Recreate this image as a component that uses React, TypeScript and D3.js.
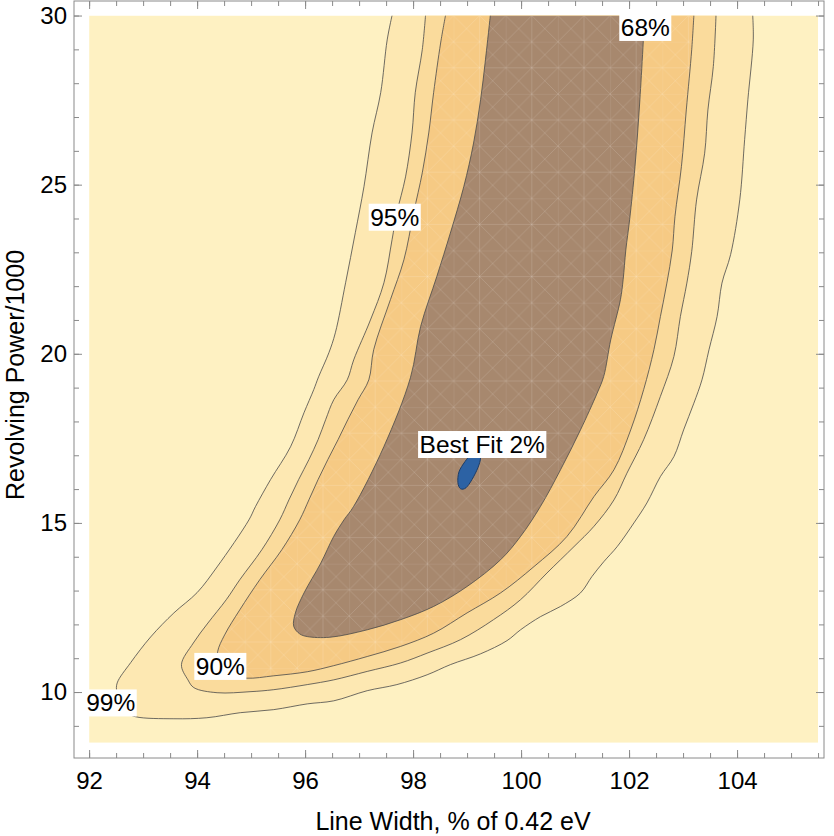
import React, { useEffect, useRef } from 'react'

import * as d3 from 'd3'

type Pt = [number, number]

// confidence contours in (line width %, revolving power / 1000), traced
// from the top edge down the left flank, round the bottom and up the right
const contour99: Pt[] = [
  [97.61, 30.0], [97.52, 29.28], [97.4, 27.72], [97.24, 26.53], [97.09, 24.94],
  [96.93, 23.58], [96.75, 22.1], [96.56, 20.62], [96.44, 20.03], [96.25, 19.32],
  [96.16, 18.94], [95.98, 18.26], [95.73, 17.25], [95.36, 16.28], [95.08, 15.48],
  [94.96, 15.09], [94.37, 13.7], [94.0, 12.94], [93.57, 12.34], [93.14, 11.63],
  [92.77, 10.87], [92.52, 10.27], [92.51, 10.01], [92.57, 9.62], [92.7, 9.39],
  [92.86, 9.27], [93.57, 9.21], [94.18, 9.24], [94.8, 9.39], [95.42, 9.48],
  [96.04, 9.65], [96.53, 9.74], [97.15, 10.04], [97.7, 10.22], [98.26, 10.51],
  [98.69, 10.81], [99.25, 11.13], [99.74, 11.52], [99.99, 11.84], [100.36, 12.23],
  [100.73, 12.53], [101.1, 12.93], [101.31, 13.41], [101.53, 13.85], [101.78, 14.3],
  [102.09, 15.0], [102.33, 15.59], [102.58, 16.37], [102.83, 16.96], [103.01, 17.75],
  [103.2, 18.54], [103.35, 19.23], [103.48, 20.12], [103.63, 21.1], [103.72, 22.09],
  [103.88, 22.93], [104.05, 24.55], [104.14, 26.33], [104.2, 27.51], [104.3, 29.28],
  [104.29, 30.0],
]

const contour95: Pt[] = [
  [98.23, 30.0], [98.17, 28.99], [98.04, 27.72], [97.98, 26.53], [97.86, 25.23],
  [97.7, 24.17], [97.61, 23.37], [97.46, 22.1], [97.21, 21.0], [96.9, 19.82],
  [96.78, 19.23], [96.53, 18.64], [96.38, 18.05], [96.24, 17.46], [96.07, 16.87],
  [95.88, 16.28], [95.7, 15.68], [95.53, 15.09], [95.2, 14.21], [94.79, 13.32],
  [94.54, 12.73], [94.2, 12.04], [93.93, 11.45], [93.71, 10.81], [93.83, 10.36],
  [93.94, 10.13], [94.37, 9.98], [94.98, 10.01], [95.42, 10.07], [96.04, 10.22],
  [96.53, 10.36], [97.15, 10.61], [97.77, 10.86], [98.26, 11.15], [98.88, 11.55],
  [99.49, 12.14], [99.99, 12.73], [100.48, 13.52], [100.98, 14.3], [101.35, 14.9],
  [101.72, 15.68], [101.96, 16.47], [102.27, 17.46], [102.58, 18.74], [102.83, 19.92],
  [102.95, 21.1], [103.07, 22.09], [103.16, 23.02], [103.25, 24.55], [103.4, 25.93],
  [103.46, 27.21], [103.56, 28.49], [103.61, 30.0],
]

const contour90: Pt[] = [
  [98.6, 30.0], [98.51, 29.19], [98.38, 27.72], [98.29, 26.53], [98.17, 25.35],
  [98.01, 24.17], [97.83, 22.78], [97.58, 21.6], [97.27, 20.12], [97.18, 19.23],
  [96.98, 18.64], [96.79, 18.05], [96.61, 17.46], [96.42, 16.87], [96.24, 16.28],
  [96.07, 15.68], [95.9, 15.09], [95.57, 14.21], [95.16, 13.32], [94.79, 12.43],
  [94.51, 11.69], [94.38, 11.19], [94.4, 10.81], [94.53, 10.54], [94.91, 10.41],
  [95.42, 10.48], [96.04, 10.6], [96.53, 10.78], [97.15, 11.05], [97.77, 11.35],
  [98.38, 11.74], [99.0, 12.34], [99.62, 12.93], [100.24, 13.71], [100.85, 14.6],
  [101.35, 15.78], [101.72, 16.57], [102.03, 17.75], [102.27, 18.94], [102.46, 20.12],
  [102.58, 21.1], [102.7, 22.09], [102.8, 23.07], [102.85, 24.06], [102.97, 25.54],
  [103.06, 27.21], [103.16, 28.99], [103.2, 30.0],
]

const contour68: Pt[] = [
  [99.43, 30.0], [99.34, 28.69], [99.25, 27.51], [99.12, 26.23], [98.94, 24.95],
  [98.69, 23.57], [98.44, 22.29], [98.14, 20.81], [97.95, 19.29], [97.46, 17.26],
  [96.9, 15.49], [96.72, 15.09], [96.53, 14.6], [96.29, 13.81], [95.98, 12.93],
  [95.82, 12.34], [95.79, 11.94], [95.9, 11.72], [96.04, 11.64], [96.46, 11.62],
  [97.15, 11.84], [97.77, 12.14], [98.38, 12.53], [99.0, 13.12], [99.62, 13.91],
  [99.99, 14.6], [100.36, 15.49], [100.73, 16.57], [101.1, 17.75], [101.41, 18.84],
  [101.53, 19.33], [101.66, 20.41], [101.84, 21.6], [101.89, 22.19], [101.94, 23.07],
  [102.01, 23.96], [102.11, 25.54], [102.2, 27.51], [102.29, 30.0],
]

const bestFit: Pt[] = [
  [99.2, 17.1], [99.25, 16.93], [99.2, 16.63], [99.09, 16.28], [98.98, 16.04],
  [98.88, 16.01], [98.83, 16.19], [98.85, 16.51], [98.96, 16.81], [99.07, 17.01],
]

const levelLabels = [
  { text: '68%', x: 102.3, y: 29.65 },
  { text: '95%', x: 97.66, y: 24.04 },
  { text: '90%', x: 94.43, y: 10.76 },
  { text: '99%', x: 92.4, y: 9.68 },
  { text: 'Best Fit 2%', x: 99.28, y: 17.32 },
]

const xTicks = [92, 94, 96, 98, 100, 102, 104]
const yTicks = [10, 15, 20, 25, 30]
const xMinorTicks = d3.range(92, 105.6, 0.5)
const yMinorTicks = d3.range(9, 31, 1)

const bands = [
  { points: contour99, fill: '#fde8b2' },
  { points: contour95, fill: '#fadb9c' },
  { points: contour90, fill: '#f6ca84' },
  { points: contour68, fill: '#a7886e' },
]

const FONT = "'Liberation Sans', Arial, sans-serif"

const ContourChart = () => {
  const svgRef = useRef(null)

  useEffect(() => {
    if (!svgRef.current) return
    const svg = d3.select(svgRef.current)
    svg.selectAll('*').remove()

    const width = 834
    const height = 836
    svg.attr('width', width).attr('height', height)

    const x = d3.scaleLinear().domain([91.72, 105.61]).range([74, 824])
    const y = d3.scaleLinear().domain([8.05, 30.43]).range([758, 1])

    const region = { x0: 92, x1: 105.5, y0: 8.5, y1: 30 }

    const defs = svg.append('defs')
    defs
      .append('clipPath')
      .attr('id', 'plot-clip')
      .append('rect')
      .attr('x', x(region.x0))
      .attr('y', y(region.y1))
      .attr('width', x(region.x1) - x(region.x0))
      .attr('height', y(region.y0) - y(region.y1))

    const line = d3
      .line<Pt>()
      .x((d) => x(d[0]))
      .y((d) => y(d[1]))
      .curve(d3.curveCatmullRom.alpha(0.5))

    defs
      .append('clipPath')
      .attr('id', 'mesh-clip')
      .append('path')
      .attr('d', line(contour90) + 'Z')

    // light triangulation mesh seen over the inner regions
    const cell = 26.1
    const c2 = cell * 2
    const pat = defs
      .append('pattern')
      .attr('id', 'mesh')
      .attr('patternUnits', 'userSpaceOnUse')
      .attr('width', c2)
      .attr('height', c2)
      .attr('x', 505.7 % c2)
      .attr('y', 41.7 % c2)
    pat
      .append('path')
      .attr(
        'd',
        `M0,0V${c2}M${cell},0V${c2}M0,0H${c2}M0,${cell}H${c2}` +
          `M0,0L${c2},${c2}M${c2},0L0,${c2}` +
          `M${cell},0L${c2},${cell}L${cell},${c2}L0,${cell}Z`
      )
      .attr('fill', 'none')
      .attr('stroke', '#ffffff')
      .attr('stroke-opacity', 0.15)
      .attr('stroke-width', 0.9)

    const plot = svg.append('g').attr('clip-path', 'url(#plot-clip)')

    plot
      .append('rect')
      .attr('x', x(region.x0))
      .attr('y', y(region.y1))
      .attr('width', x(region.x1) - x(region.x0))
      .attr('height', y(region.y0) - y(region.y1))
      .attr('fill', '#fef1c2')

    plot
      .selectAll('path.band')
      .data(bands)
      .join('path')
      .attr('class', 'band')
      .attr('d', (d) => line(d.points) + 'Z')
      .attr('fill', (d) => d.fill)

    plot
      .append('rect')
      .attr('clip-path', 'url(#mesh-clip)')
      .attr('x', x(region.x0))
      .attr('y', y(region.y1))
      .attr('width', x(region.x1) - x(region.x0))
      .attr('height', y(region.y0) - y(region.y1))
      .attr('fill', 'url(#mesh)')

    plot
      .selectAll('path.contour')
      .data(bands)
      .join('path')
      .attr('class', 'contour')
      .attr('d', (d) => line(d.points))
      .attr('fill', 'none')
      .attr('stroke', '#4a4a4a')
      .attr('stroke-opacity', 0.8)
      .attr('stroke-width', 1)

    plot
      .append('path')
      .attr('d', d3.line<Pt>().x((d) => x(d[0])).y((d) => y(d[1])).curve(d3.curveCardinalClosed)(bestFit))
      .attr('fill', '#2c62a4')
      .attr('stroke', '#1e3d66')
      .attr('stroke-width', 1)

    // contour labels on white boxes
    const labels = svg.append('g').attr('font-family', FONT).attr('font-size', 24.5)
    levelLabels.forEach((l) => {
      const g = labels.append('g')
      const rect = g.append('rect').attr('fill', '#ffffff')
      const t = g
        .append('text')
        .attr('x', x(l.x))
        .attr('y', y(l.y))
        .attr('dy', '0.35em')
        .attr('text-anchor', 'middle')
        .attr('fill', '#000')
        .text(l.text)
      const bb = (t.node() as SVGTextElement).getBBox()
      rect
        .attr('x', bb.x - 1.5)
        .attr('y', bb.y)
        .attr('width', bb.width + 3)
        .attr('height', bb.height)
    })

    // frame with inward ticks on all four sides
    const frameColor = '#8a8a8a'
    svg
      .append('rect')
      .attr('x', 74)
      .attr('y', 1)
      .attr('width', 750)
      .attr('height', 757)
      .attr('fill', 'none')
      .attr('stroke', frameColor)

    const styleAxis = (g) => {
      g.select('.domain').remove()
      g.selectAll('.tick line').attr('stroke', frameColor)
      g.selectAll('.tick text').attr('fill', '#000').attr('font-family', FONT).attr('font-size', 24)
    }

    svg
      .append('g')
      .attr('transform', 'translate(0,758)')
      .call(d3.axisBottom(x).tickValues(xMinorTicks).tickSize(-5).tickFormat(() => ''))
      .call(styleAxis)
    svg
      .append('g')
      .attr('transform', 'translate(0,758)')
      .call(d3.axisBottom(x).tickValues(xTicks).tickSize(-8).tickPadding(14).tickFormat(d3.format('d')))
      .call(styleAxis)
    svg
      .append('g')
      .attr('transform', 'translate(0,1)')
      .call(d3.axisTop(x).tickValues(xMinorTicks).tickSize(-5).tickFormat(() => ''))
      .call(styleAxis)
    svg
      .append('g')
      .attr('transform', 'translate(0,1)')
      .call(d3.axisTop(x).tickValues(xTicks).tickSize(-8).tickFormat(() => ''))
      .call(styleAxis)

    svg
      .append('g')
      .attr('transform', 'translate(74,0)')
      .call(d3.axisLeft(y).tickValues(yMinorTicks).tickSize(-5).tickFormat(() => ''))
      .call(styleAxis)
    svg
      .append('g')
      .attr('transform', 'translate(74,0)')
      .call(d3.axisLeft(y).tickValues(yTicks).tickSize(-8).tickPadding(7).tickFormat(d3.format('d')))
      .call(styleAxis)
    svg
      .append('g')
      .attr('transform', 'translate(824,0)')
      .call(d3.axisRight(y).tickValues(yMinorTicks).tickSize(-5).tickFormat(() => ''))
      .call(styleAxis)
    svg
      .append('g')
      .attr('transform', 'translate(824,0)')
      .call(d3.axisRight(y).tickValues(yTicks).tickSize(-8).tickFormat(() => ''))
      .call(styleAxis)

    svg
      .append('text')
      .attr('x', 453)
      .attr('y', 830)
      .attr('text-anchor', 'middle')
      .attr('font-family', FONT)
      .attr('font-size', 25)
      .attr('fill', '#000')
      .text('Line Width, % of 0.42 eV')

    svg
      .append('text')
      .attr('transform', 'translate(24,375) rotate(-90)')
      .attr('text-anchor', 'middle')
      .attr('font-family', FONT)
      .attr('font-size', 25)
      .attr('fill', '#000')
      .text('Revolving Power/1000')
  }, [])

  return <svg ref={svgRef} style={{ position: 'absolute', left: 0, top: 0, display: 'block' }}></svg>
}

export default function App() {
  return <ContourChart />
}
